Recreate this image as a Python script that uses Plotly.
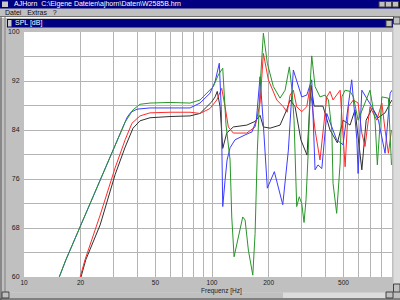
import plotly.graph_objects as go

# ---------------- data ----------------
blue_f = [15.4, 16.7, 22.4, 28.7, 32.4, 35.4, 37.0, 38.5, 39.9, 46.8, 59.8, 76.4, 86.3, 97.5, 103.8, 109.3,
          112, 114, 117.3, 120.2, 124.7, 132.5, 149.9, 163.3, 172, 180, 186.8, 196.8, 214.4, 237.7,
          254.6, 270.6, 300, 319, 339, 353, 366, 383.5, 407.5, 460, 497, 553, 589, 598, 626, 665,
          707, 767, 832, 885, 906]
blue_db = [60.0, 62.8, 71.9, 79.7, 83.6, 86.1, 86.9, 87.2, 87.4, 87.6, 87.6, 87.6, 88.4, 90.0, 91.9, 94.9,
           87.3, 71.5, 75.8, 79.1, 81.1, 82.4, 83.2, 83.7, 85.6, 92.7, 85.6, 74.5, 77.2, 71.8,
           80.7, 93.8, 89.4, 89.7, 92.2, 77.5, 78.3, 77.7, 86.7, 82.4, 81.6, 92.2, 82.4, 76.9, 90.5, 89.2,
           87.8, 85.6, 80.2, 90.0, 90.5]

green_f = [15.4, 16.7, 22.4, 28.7, 34.5, 38.0, 41.4, 46.8, 59.8, 76.4, 86.3, 101.6, 108, 114, 118.7,
           124.7, 127.3, 131, 138, 145.6, 149.9, 156, 164.7, 169.4, 174.2, 180, 187.5, 196.8, 211.8,
           230, 244.6, 257.7, 266.4, 273, 282, 291, 300, 308.5, 316, 325, 332, 339, 353, 375, 399,
           416, 433.5, 440, 460, 468, 480, 490, 510, 542, 564.5, 598, 644, 692, 736, 757, 799.6,
           866.8, 900]
green_db = [60.0, 62.8, 71.9, 79.6, 85.3, 87.3, 88.2, 88.4, 88.5, 88.4, 88.9, 91.1, 93.0, 94.1, 84.8,
            79.1, 69.8, 63.3, 66.6, 69.8, 69.3, 64.4, 60.3, 67.1, 80.7, 91.1, 99.8, 94.9, 91.1,
            89.2, 90.5, 94.3, 90.5, 85.6, 71.5, 73.1, 72.0, 68.9, 72.6, 80.7, 91.1, 96.1, 91.1, 89.4, 89.7,
            88.9, 84.0, 75.3, 70.4, 74.2, 78.6, 89.4, 90.5, 90.3, 89.4, 85.6, 88.1, 90.5, 85.6, 78.3, 89.4,
            89.2, 78.3]

red_f = [19.9, 21.1, 25.4, 30.5, 34.5, 37.5, 41.4, 46.8, 59.8, 76.4, 86.3, 97.5, 106, 112.6, 117.3,
         122.1, 129.8, 153, 169.4, 180, 187.5, 199.3, 221, 239.5, 251, 260, 270.6, 282, 300, 319,
         332, 353, 375, 407.5, 424, 440, 480, 499, 510, 531, 564.5, 598, 626, 651, 692, 752, 799.6,
         832, 866.8, 900]
red_db = [60.0, 62.8, 70.1, 77.8, 82.4, 85.1, 86.3, 86.8, 86.9, 86.9, 86.7, 87.5, 88.9, 90.8, 87.8,
          84.5, 83.5, 83.5, 84.5, 88.4, 96.5, 92.2, 88.9, 87.8, 86.9, 89.7, 90.5, 87.8, 87.0, 87.8,
          91.1, 84.0, 79.1, 89.4, 90.3, 88.9, 90.5, 81.3, 78.0, 87.8, 88.9, 88.4, 83.5, 81.3, 87.8, 85.6, 88.4,
          84.0, 80.2, 84.0]

black_f = [20.1, 21.3, 25.4, 30.5, 34.5, 38.0, 41.4, 46.8, 59.8, 76.4, 86.3, 99.6, 103.8, 106.6, 110.3,
           114, 119.7, 129.8, 153, 169.4, 180, 187.5, 203.5, 230, 249.6, 260, 276.4, 296.7, 320, 336,
           349, 389, 424, 464, 498, 542, 576, 626, 660, 712, 764, 832, 885, 906]
black_db = [60.0, 62.8, 68.5, 76.7, 81.2, 84.3, 85.5, 86.0, 86.2, 86.3, 86.7, 88.6, 89.4, 90.3, 87.8,
            81.0, 83.5, 84.5, 84.8, 85.4, 86.4, 84.5, 84.3, 84.8, 87.3, 88.9, 87.8, 82.4, 79.9, 91.3,
            87.9, 87.9, 84.0, 81.9, 85.6, 84.8, 87.3, 77.5, 85.6, 87.6, 86.0, 86.8, 88.4, 88.9]

x_grid = [10, 20, 30, 40, 50, 60, 70, 80, 90, 100, 200, 300, 400, 500, 600, 700, 800]
x_labels = {10: "10", 20: "20", 50: "50", 100: "100", 200: "200", 500: "500"}
y_grid = [60, 64, 68, 72, 76, 80, 84, 88, 92, 96, 100]
y_labels = {60: "60", 68: "68", 76: "76", 84: "84", 92: "92", 100: "100"}

# ---------------- layout helpers (pixel -> paper) ----------------
L, R, T, B = 24, 392, 32, 277
W, H = 400, 300


def px(x):
    return (x - L) / (R - L)


def py(y):
    return (B - y) / (B - T)


NAVY = "#000080"
GRAY = "#c0c0c0"
FONT = "Liberation Sans"

fig = go.Figure()
for f, d, c in [(black_f, black_db, "#303030"), (red_f, red_db, "#ff2a2a"),
                (blue_f, blue_db, "#3c3cff"), (green_f, green_db, "#289628")]:
    fig.add_trace(go.Scatter(x=f, y=d, mode="lines", line=dict(color=c, width=1),
                             hoverinfo="skip", showlegend=False))

shapes = []


def rect(x0, y0, x1, y1, fill, line=None):
    shapes.append(dict(type="rect", xref="paper", yref="paper",
                       x0=px(x0), x1=px(x1), y0=py(y1), y1=py(y0),
                       fillcolor=fill, line=dict(width=0 if line is None else 1,
                                                 color=line or fill), layer="above"))


def hline(x0, x1, y, color):
    shapes.append(dict(type="line", xref="paper", yref="paper", x0=px(x0), x1=px(x1),
                       y0=py(y), y1=py(y), line=dict(color=color, width=1), layer="above"))


def vline(x, y0, y1, color):
    shapes.append(dict(type="line", xref="paper", yref="paper", x0=px(x), x1=px(x),
                       y0=py(y0), y1=py(y1), line=dict(color=color, width=1), layer="above"))


# app title bar
rect(0, 0, 400, 8.5, NAVY)
rect(2, 1.5, 8, 7, "#c8c8c8")
for bx in (379, 385.5, 392.5):
    rect(bx, 1.5, bx + 6, 7, GRAY, "#404040")
# menu separator
hline(0, 394, 16.5, "#707070")
hline(0, 394, 17.5, "#ffffff")
# left frame
vline(1, 17, 300, "#505050")
vline(5, 17, 292, "#808080")
# child title bar
rect(7, 19, 393, 27.5, NAVY)
rect(8, 20, 11.5, 26.5, "#c8c8c8")
rect(386, 20.5, 392, 26.5, GRAY, "#404040")
# right vertical scrollbar
rect(393.5, 17, 400, 292, "#dcdcdc")
rect(393.5, 17, 400, 24, GRAY, "#404040")
rect(393.5, 284, 400, 292, GRAY, "#404040")
# bottom scrollbar
rect(2, 292.5, 393, 298, "#dcdcdc")
rect(10, 292.5, 283, 298, GRAY)
rect(2, 292, 9, 298, GRAY, "#404040")
rect(386, 292, 393, 298, GRAY, "#404040")
hline(0, 400, 299, "#404040")

ann = [
    dict(text="AJHorn  C:\\Eigene Dateien\\ajhorn\\Daten\\W2585B.hrn", x=px(12), y=py(4.3),
         xanchor="left", yanchor="middle", font=dict(color="white", size=7, family=FONT)),
    dict(text="Datei   Extras   ?", x=px(3), y=py(12.5), xanchor="left", yanchor="middle",
         font=dict(color="#101010", size=7, family=FONT)),
    dict(text="SPL [dB]", x=px(13), y=py(23.3), xanchor="left", yanchor="middle",
         font=dict(color="white", size=7, family=FONT)),
    dict(text="Frequenz [Hz]", x=px(222), y=py(290.5), xanchor="center", yanchor="middle",
         font=dict(color="#202020", size=6.5, family=FONT)),
]
for a in ann:
    a.update(xref="paper", yref="paper", showarrow=False)

fig.update_layout(
    width=W, height=H,
    margin=dict(l=L, r=W - R, t=T, b=H - B, pad=0),
    paper_bgcolor=GRAY, plot_bgcolor="white",
    shapes=shapes, annotations=ann,
    font=dict(family=FONT, size=7, color="#202020"),
    xaxis=dict(type="log", range=[1, 2.957], tickvals=x_grid,
               ticktext=[x_labels.get(v, "") for v in x_grid],
               showgrid=True, gridcolor="#b4b4b4", gridwidth=1, zeroline=False,
               showline=False, ticks="", ticklen=0,
               tickfont=dict(size=6.5, family=FONT, color="#202020")),
    yaxis=dict(range=[60, 100], tickvals=y_grid,
               ticktext=[y_labels.get(v, "") for v in y_grid],
               showgrid=True, gridcolor="#b4b4b4", gridwidth=1, zeroline=False,
               showline=False, ticks="outside", ticklen=2, tickcolor=GRAY,
               tickfont=dict(size=7, family=FONT, color="#202020")),
)

fig.write_html("out.html")
